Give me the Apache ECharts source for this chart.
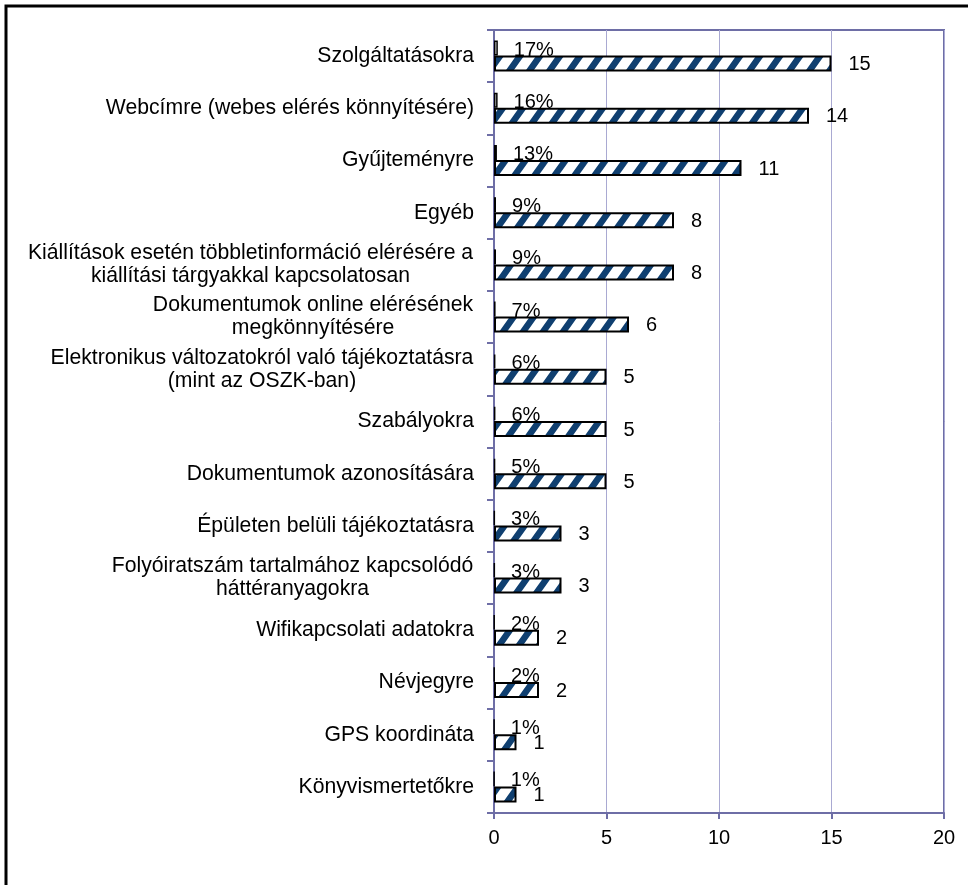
<!DOCTYPE html>
<html>
<head>
<meta charset="utf-8">
<script src="https://cdn.jsdelivr.net/npm/echarts@6/dist/echarts.min.js"></script>
<style>
  html, body { margin: 0; padding: 0; background: #fff; }
  #chart { width: 968px; height: 885px; }
</style>
</head>
<body>
<div id="chart"></div>
<script>
const categories = [
  'Szolgáltatásokra',
  'Webcímre (webes elérés könnyítésére)',
  'Gyűjteményre',
  'Egyéb',
  'Kiállítások esetén többletinformáció elérésére a\nkiállítási tárgyakkal kapcsolatosan',
  'Dokumentumok online elérésének\nmegkönnyítésére',
  'Elektronikus változatokról való tájékoztatásra\n(mint az OSZK-ban)',
  'Szabályokra',
  'Dokumentumok azonosítására',
  'Épületen belüli tájékoztatásra',
  'Folyóiratszám tartalmához kapcsolódó\nháttéranyagokra',
  'Wifikapcsolati adatokra',
  'Névjegyre',
  'GPS koordináta',
  'Könyvismertetőkre'
]
const counts = [15, 14, 11, 8, 8, 6, 5, 5, 5, 3, 3, 2, 2, 1, 1]
const percents = [17, 16, 13, 9, 9, 7, 6, 6, 5, 3, 3, 2, 2, 1, 1]
const xTicks = [0, 5, 10, 15, 20]

const FONT = "'Liberation Sans', Arial, sans-serif"
const FS = 20
const CAT_FS = 21.2
const axisColor = '#6e6ea6'

// diagonal stripe pattern for the count bars
function stripes() {
  const w = 20, h = 28
  const c = document.createElement('canvas')
  c.width = w; c.height = h
  const g = c.getContext('2d')
  g.fillStyle = '#fff'
  g.fillRect(0, 0, w, h)
  g.strokeStyle = '#0f3f70'
  g.lineWidth = 6.5
  g.beginPath()
  for (let k = -2; k <= 2; k++) {
    g.moveTo(k * w - w, 2 * h)
    g.lineTo(k * w + 2 * w, -h)
  }
  g.stroke()
  return c
}

// multi-line labels: centre the lines inside their own block
const measure = document.createElement('canvas').getContext('2d')
measure.font = CAT_FS + 'px ' + FONT
const rich = {}
categories.forEach((c, i) => {
  const lines = c.split('\n')
  if (lines.length > 1) {
    const w = Math.max(...lines.map(l => measure.measureText(l).width))
    rich['m' + i] = { width: Math.ceil(w) + 1, align: 'center', fontSize: CAT_FS, fontFamily: FONT, color: '#000', lineHeight: 23 }
  }
})

const chart = echarts.init(document.getElementById('chart'), null, { renderer: 'canvas' })
chart.setOption({
  animation: false,
  backgroundColor: '#fff',
  textStyle: { fontFamily: FONT },
  graphic: [{
    type: 'rect',
    shape: { x: 6, y: 6, width: 1400, height: 1400 },
    style: { fill: 'none', stroke: '#000', lineWidth: 3 },
    silent: true
  }],
  grid: {
    left: 494, right: 24, top: 30, bottom: 72,
    show: true, borderColor: axisColor, borderWidth: 2
  },
  xAxis: {
    type: 'value',
    min: xTicks[0],
    max: xTicks[xTicks.length - 1],
    interval: xTicks[1] - xTicks[0],
    axisLine: { show: true, lineStyle: { color: axisColor, width: 2 } },
    axisTick: { show: true, length: 6, lineStyle: { color: axisColor, width: 2 } },
    splitLine: { show: true, lineStyle: { color: '#a9a9d2', width: 1 } },
    axisLabel: { color: '#000', fontSize: FS, margin: 15 }
  },
  yAxis: {
    type: 'category',
    data: categories,
    inverse: true,
    axisLine: { show: true, lineStyle: { color: axisColor, width: 2 } },
    axisTick: { show: true, length: 7, lineStyle: { color: axisColor, width: 2 } },
    axisLabel: {
      color: '#000', fontSize: CAT_FS, margin: 20, lineHeight: 23, interval: 0,
      formatter: (v, i) => {
        const lines = v.split('\n')
        if (lines.length === 1) return v
        return lines.map(l => '{m' + i + '|' + l + '}').join('\n')
      },
      rich
    }
  },
  series: [
    {
      name: '%',
      type: 'bar',
      barWidth: 15,
      barGap: '0%',
      data: percents.map(p => p / 100),
      itemStyle: { color: '#fff', borderColor: '#000', borderWidth: 1.5 },
      label: {
        show: true, position: 'right', distance: 16, offset: [0, 2],
        color: '#000', fontSize: FS,
        formatter: p => Math.round(p.value * 100) + '%'
      }
    },
    {
      name: 'db',
      type: 'bar',
      barWidth: 16,
      barGap: '0%',
      data: counts,
      itemStyle: {
        color: { image: stripes(), repeat: 'repeat' },
        borderColor: '#000', borderWidth: 2
      },
      label: {
        show: true, position: 'right', distance: 17, offset: [0, 1],
        color: '#000', fontSize: FS
      }
    }
  ]
})
</script>
</body>
</html>
